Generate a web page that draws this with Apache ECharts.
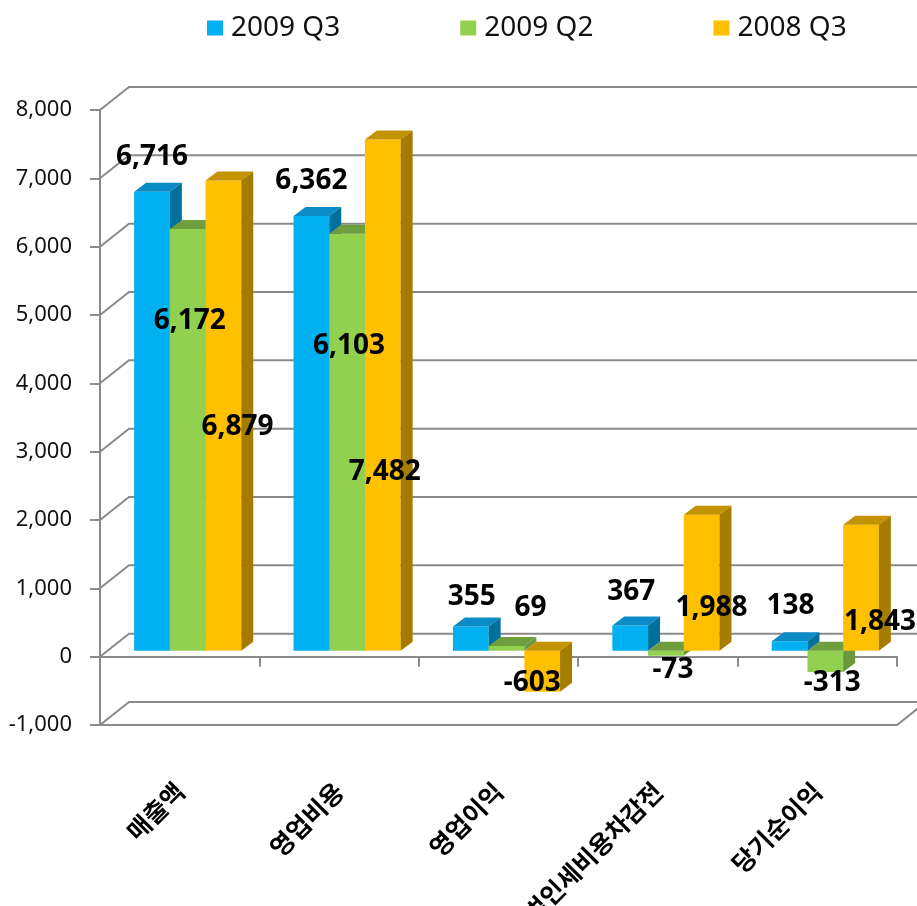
<!DOCTYPE html>
<html>
<head>
<meta charset="utf-8">
<script src="https://cdn.jsdelivr.net/npm/echarts@6/dist/echarts.min.js"></script>
<style>
html, body { margin: 0; padding: 0; background: #fff; }
#chart { width: 917px; height: 906px; }
</style>
</head>
<body>
<div id="chart"></div>
<script>
// data
var categories = ['매출액', '영업비용', '영업이익', '법인세비용차감전', '당기순이익'];
var seriesNames = ['2009 Q3', '2009 Q2', '2008 Q3'];
var q3_2009 = [6716, 6362, 355, 367, 138];
var q2_2009 = [6172, 6103, 69, -73, -313];
var q3_2008 = [6879, 7482, -603, 1988, 1843];
var yTicks = [-1000, 0, 1000, 2000, 3000, 4000, 5000, 6000, 7000, 8000];

var seriesValues = [q3_2009, q2_2009, q3_2008];

// looks
var faces = [
    { front: '#00B0F0', top: '#0B8CC6', side: '#00709C' },
    { front: '#92D050', top: '#6E9E3E', side: '#6A983A' },
    { front: '#FFC000', top: '#C49300', side: '#A57B00' }
];
var lineColor = '#8a8a8a';
var WALL = [29, -23];      // depth of the back wall
var SHIFT = [8, -6];       // bars stand a bit behind the front plane
var BAR_DEPTH = [12, -9];
var BAR_FRAC = 0.224;
// label nudges (px) from each bar's value end, per series / category
var labelNudge = [
    [[0, -35], [0, -35], [1, -29], [1, -34], [1, -35]],
    [[2, 92], [2, 112], [24, -38], [7, 14], [7, 11]],
    [[14, 246], [2, 333], [-10, -9], [10, 93], [19, 97]]
];

function fmt(v) {
    return v.toLocaleString('en-US');
}

function barBox(api, ci, v, si) {
    var w = api.size([1, 0])[0] * BAR_FRAC;
    var base = api.coord([ci, 0]);
    var end = api.coord([ci, v]);
    var x = base[0] + SHIFT[0] + (si - 1.5) * w;
    return {
        x: x,
        w: w,
        y0: Math.min(base[1], end[1]) + SHIFT[1],
        y1: Math.max(base[1], end[1]) + SHIFT[1],
        cx: x + w / 2,
        vy: end[1] + SHIFT[1]
    };
}

function renderBar(si) {
    return function (params, api) {
        var b = barBox(api, api.value(0), api.value(1), si);
        var dx = BAR_DEPTH[0], dy = BAR_DEPTH[1];
        var f = faces[si];
        return {
            type: 'group',
            children: [
                { type: 'rect', shape: { x: b.x, y: b.y0, width: b.w, height: b.y1 - b.y0 }, style: { fill: f.front } },
                { type: 'polygon', shape: { points: [[b.x, b.y0], [b.x + b.w, b.y0], [b.x + b.w + dx, b.y0 + dy], [b.x + dx, b.y0 + dy]] }, style: { fill: f.top } },
                { type: 'polygon', shape: { points: [[b.x + b.w, b.y0], [b.x + b.w + dx, b.y0 + dy], [b.x + b.w + dx, b.y1 + dy], [b.x + b.w, b.y1]] }, style: { fill: f.side } }
            ]
        };
    };
}

function renderWall(params, api) {
    var cs = params.coordSys;
    var v = api.value(1);
    var y = api.coord([0, v])[1];
    var L = cs.x, R = cs.x + cs.width;
    var st = { stroke: lineColor, lineWidth: 2, fill: null };
    var children = [{
        type: 'polyline',
        shape: { points: [[L, y], [L + WALL[0], y + WALL[1]], [R + WALL[0], y + WALL[1]]] },
        style: st
    }];
    if (v === yTicks[0]) {
        children.push({
            type: 'polyline',
            shape: { points: [[L, y], [R, y], [R + WALL[0], y + WALL[1]]] },
            style: st
        });
    }
    return { type: 'group', children: children };
}

function renderLabel(params, api) {
    var ci = api.value(0), v = api.value(1), si = api.value(2);
    var b = barBox(api, ci, v, si);
    var n = labelNudge[si][ci];
    return {
        type: 'text',
        x: b.cx + n[0],
        y: b.vy + n[1],
        style: {
            text: fmt(v),
            fill: '#000',
            font: 'bold 28px "Noto Sans"',
            align: 'center',
            verticalAlign: 'middle'
        }
    };
}

var labelData = [];
seriesValues.forEach(function (vals, si) {
    vals.forEach(function (v, ci) { labelData.push([ci, v, si]); });
});

var series = [{
    name: 'walls',
    type: 'custom',
    z: 1,
    silent: true,
    renderItem: renderWall,
    encode: { x: 0, y: 1 },
    data: yTicks.map(function (v) { return [0, v]; })
}];
seriesValues.forEach(function (vals, si) {
    series.push({
        name: seriesNames[si],
        type: 'custom',
        z: 3,
        itemStyle: { color: faces[si].front },
        renderItem: renderBar(si),
        encode: { x: 0, y: 1 },
        data: vals.map(function (v, ci) { return [ci, v]; })
    });
});
series.push({
    name: 'labels',
    type: 'custom',
    z: 5,
    silent: true,
    renderItem: renderLabel,
    encode: { x: 0, y: 1 },
    data: labelData
});

var chart = echarts.init(document.getElementById('chart'));
chart.setOption({
    animation: false,
    backgroundColor: '#fff',
    legend: {
        data: seriesNames,
        left: 202,
        top: 9,
        icon: 'rect',
        itemWidth: 16,
        itemHeight: 15,
        itemGap: 120,
        textStyle: { fontSize: 28, fontFamily: 'Noto Sans', color: '#111', padding: [0, 0, 0, 3] }
    },
    grid: { left: 100, right: 20, top: 110, bottom: 181, outerBoundsMode: 'none' },
    xAxis: {
        type: 'category',
        data: categories,
        axisLine: { onZero: true, lineStyle: { color: lineColor, width: 2 } },
        axisTick: { show: true, length: 10, lineStyle: { color: lineColor, width: 2 } },
        axisLabel: {
            interval: 0,
            rotate: 45,
            margin: 62,
            color: '#000',
            fontSize: 25,
            fontWeight: 'bold',
            fontFamily: '"Noto Sans CJK KR"'
        }
    },
    yAxis: {
        type: 'value',
        min: -1000,
        max: 8000,
        interval: 1000,
        axisLine: { show: true, lineStyle: { color: lineColor, width: 2 } },
        axisTick: { show: true, length: 10, lineStyle: { color: lineColor, width: 2 } },
        splitLine: { show: false },
        axisLabel: {
            margin: 28,
            color: '#111',
            fontSize: 22,
            fontFamily: 'Noto Sans',
            formatter: fmt
        }
    },
    series: series
});
</script>
</body>
</html>
